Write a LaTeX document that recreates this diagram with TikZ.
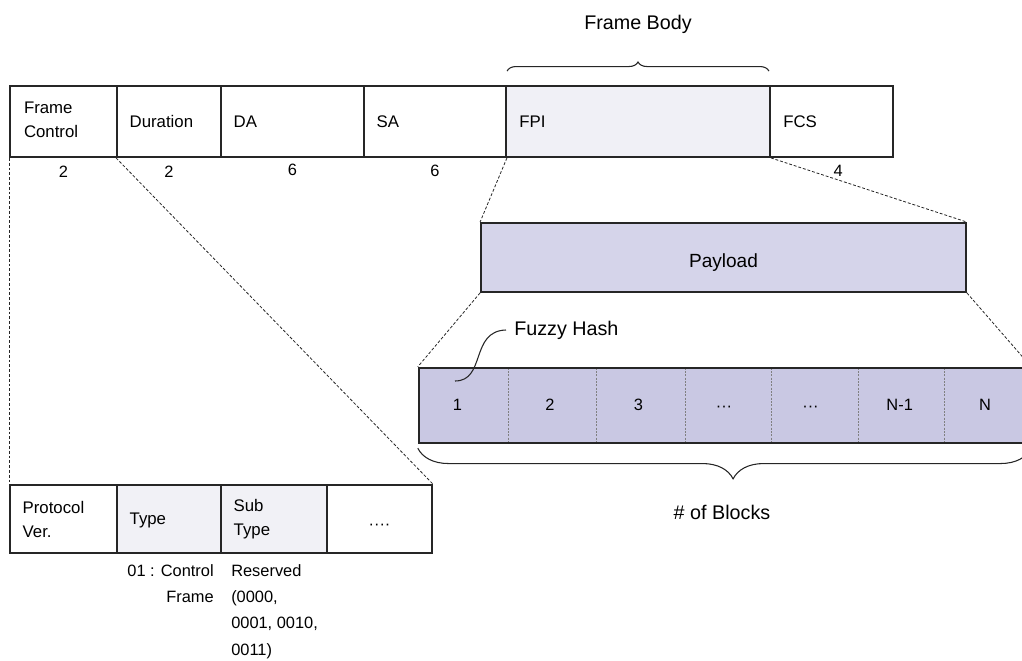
\documentclass[tikz,border=0pt]{standalone}
\usepackage{fontspec}
\setmainfont{Liberation Sans}
\usetikzlibrary{fit,decorations.pathreplacing}

\definecolor{fpigray}{RGB}{240,240,246}
\definecolor{subgray}{RGB}{241,241,246}
\definecolor{payloadfill}{RGB}{213,212,234}
\definecolor{blockfill}{RGB}{201,200,227}
\definecolor{edge}{RGB}{38,38,38}

\begin{document}
\begin{tikzpicture}[x=0.75pt,y=-0.75pt,
  field/.style={draw=edge, line width=1.4pt, inner sep=0pt},
  cell/.style={inner sep=0pt, fill=blockfill},
  celltext/.style={inner sep=0pt, font=\fontsize{12.3}{14}\selectfont},
  lbl/.style={anchor=west, inner sep=0pt, align=left, font=\fontsize{12.6}{18}\selectfont},
  num/.style={inner sep=0pt, font=\fontsize{12.3}{14}\selectfont},
  big/.style={inner sep=0pt, font=\fontsize{14.8}{17}\selectfont},
  note/.style={inner sep=0pt, font=\fontsize{12.3}{19.8}\selectfont},
  zoomline/.style={draw=edge, line width=0.6pt, dash pattern=on 2.2pt off 1.4pt},
  divider/.style={draw=gray, line width=0.4pt, dash pattern=on 1.5pt off 1pt},
  curly/.style={decorate, decoration={brace, amplitude=#1}, line width=0.8pt, draw=edge}
]
\useasboundingbox (0,0) rectangle (1022,661);
\clip (0,0) rectangle (1022,661);

% ---- MAC frame fields ----
\node[field, fit={(10,86)(117,157)}] (fc) {};
\node[field, fit={(117,86)(221,157)}] (dur) {};
\node[field, fit={(221,86)(364,157)}] (da) {};
\node[field, fit={(364,86)(506,157)}] (sa) {};
\node[field, fill=fpigray, fit={(506,86)(770,157)}] (fpi) {};
\node[field, fit={(770,86)(893,157)}] (fcs) {};

\node[lbl] (fc-t)  at ([xshift=11pt,yshift=1pt]fc.west)  {Frame\\Control};
\node[lbl] (dur-t) at ([xshift=10pt]dur.west) {Duration};
\node[lbl] (da-t)  at ([xshift=10pt]da.west)  {DA};
\node[lbl] (sa-t)  at ([xshift=10pt]sa.west)  {SA};
\node[lbl] (fpi-t) at ([xshift=10.5pt]fpi.west) {FPI};
\node[lbl] (fcs-t) at ([xshift=10.5pt]fcs.west) {FCS};

% field lengths in octets
\node[num] (fc-n)  at ([yshift=-10.5pt]fc.south)  {2};
\node[num] (dur-n) at ([yshift=-10.5pt]dur.south) {2};
\node[num] (da-n)  at ([yshift=-9pt]da.south)   {6};
\node[num] (sa-n)  at ([yshift=-9.5pt]sa.south)   {6};
\node[num] (fcs-n) at ([xshift=5pt,yshift=-9.5pt]fcs.south) {4};

% frame body brace
\draw[curly=6.8pt] ([shift={(1.5pt,10.5pt)}]fpi.north west) -- ([shift={(-1.5pt,10.5pt)}]fpi.north east);
\node[big] (fbody) at (638,24) {Frame Body};

% ---- payload ----
\node[field, fill=payloadfill, fit={(481,223)(966,292)}] (pay) {};
\node[big, font=\fontsize{14.3}{17}\selectfont] (pay-t) at ([yshift=-3.5pt]pay.center) {Payload};

% ---- fuzzy hash blocks ----
\node[cell, fit={(419,368)(508,443)}] (b1) {};
\node[cell, fit={(508,368)(596,443)}] (b2) {};
\node[cell, fit={(596,368)(685,443)}] (b3) {};
\node[cell, fit={(685,368)(771,443)}] (b4) {};
\node[cell, fit={(771,368)(858,443)}] (b5) {};
\node[cell, fit={(858,368)(944,443)}] (b6) {};
\node[cell, fit={(944,368)(1030,443)}] (b7) {};
\foreach \i/\t/\dx/\dy in {1/1/-4.5pt/0.5pt, 2/2/-1.5pt/0.5pt, 3/3/-1.5pt/0.5pt, 4/···/-3pt/-2.5pt,
                           5/···/-3pt/-2.5pt, 6/N-1/-1pt/0.5pt, 7/N/-1.5pt/0.5pt}
  \node[celltext] (b\i-t) at ([xshift=\dx,yshift=\dy]b\i.center) {\t};
\foreach \i in {1,...,6}
  \draw[divider] (b\i.north east) -- (b\i.south east);
\node[field, fit=(b1)(b7)] (blocks) {};

\draw[curly=23pt, decoration={aspect=0.486}] ([yshift=-3pt]blocks.south east) -- ([yshift=-3pt]blocks.south west);
\node[big] (nblocks) at (722,512) {\# of Blocks};

\node[big, anchor=west] (fuzzy) at (514,330) {Fuzzy Hash};
\coordinate (hashpt) at (455,381);
\draw[draw=edge, line width=0.8pt] (hashpt) .. controls (486,381) and (470,331) .. ([xshift=-6pt]fuzzy.west);

% ---- frame control subfields ----
\node[field, fit={(10,485)(117,553)}] (pv) {};
\node[field, fill=subgray, fit={(117,485)(221,553)}] (type) {};
\node[field, fill=subgray, fit={(221,485)(327,553)}] (stype) {};
\node[field, fit={(327,485)(432,553)}] (more) {};

\node[lbl] (pv-t)    at ([xshift=10pt]pv.west)    {Protocol\\Ver.};
\node[lbl] (type-t)  at ([xshift=10pt,yshift=-1pt]type.west)  {Type};
\node[lbl] (stype-t) at ([xshift=10pt]stype.west) {Sub\\Type};
\node[celltext] (more-t) at ([yshift=-6pt]more.center) {····};

\node[note, anchor=north east, align=right] (type-v) at (214,564) {01 : Control\\Frame};
\node[note, anchor=north west, align=left] (stype-v) at (231,564) {Reserved\\(0000,\\0001, 0010,\\0011)};

% ---- expansion lines ----
\draw[zoomline] (fc.south west) -- (pv.north west);
\draw[zoomline] (dur.south west) -- (more.north east);
\draw[zoomline] (sa.south east) -- (pay.north west);
\draw[zoomline] (fpi.south east) -- (pay.north east);
\draw[zoomline] (pay.south west) -- (blocks.north west);
\draw[zoomline] (pay.south east) -- (blocks.north east);
\end{tikzpicture}
\end{document}
